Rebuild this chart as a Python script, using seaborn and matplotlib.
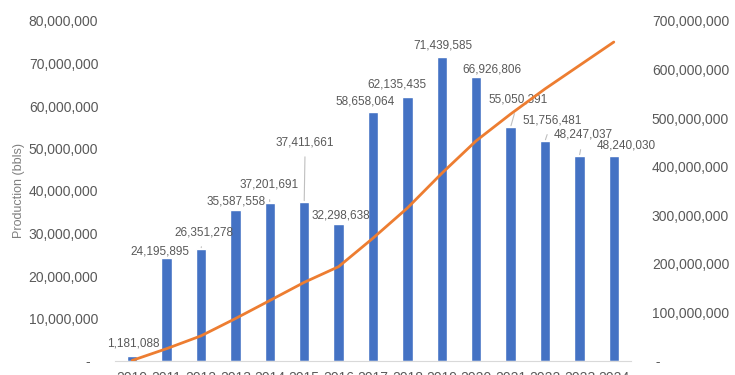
import numpy as np
import matplotlib
matplotlib.use("Agg")
import matplotlib.pyplot as plt
import seaborn as sns
from matplotlib.ticker import FuncFormatter

# data
years = ["2010", "2011", "2012", "2013", "2014", "2015", "2016", "2017",
         "2018", "2019", "2020", "2021", "2022", "2023", "2024"]
production = [1181088, 24195895, 26351278, 35587558, 37201691, 37411661,
              32298638, 58658064, 62135435, 71439585, 66926806, 55050391,
              51756481, 48247037, 48240030]
# cumulative production (secondary axis)
cumulative = [1181088, 25376983, 51728261, 87315819, 124517510, 161929171,
              194227809, 252885873, 315021308, 386460893, 453387699, 508438090,
              560194571, 608441608, 656681638]

# label offsets in pixels (dx, dy) to mimic the manual label placement
label_offsets = [(1, 12), (-7, 7), (3, 17), (1, 8), (-1, 18), (1, 60), (2, 8),
                 (-8, 10), (-10, 12), (1, 12), (16, 7), (8, 28), (7, 21),
                 (4, 21), (12, 10)]
leader = [False, False, True, False, True, True, False, False, False, False,
          False, True, True, True, False]

sns.set_style("white")
plt.rcParams["font.family"] = ["Liberation Sans", "DejaVu Sans"]
grey = "#595959"

fig = plt.figure(figsize=(7.35, 3.75), dpi=100)
ax = fig.add_axes([115 / 735, 14 / 375, 516 / 735, 340 / 375])

sns.barplot(x=years, y=production, color="#4472C4", width=0.3, saturation=1, ax=ax)
ax.set_xlim(-0.5, len(years) - 0.5)
ax.set_ylim(0, 80000000)
ax.set_yticks(np.arange(0, 80000001, 10000000))

def fmt(v, pos):
    return "-  " if v == 0 else f"{v:,.0f}"

ax.yaxis.set_major_formatter(FuncFormatter(fmt))
ax.set_ylabel("Production (bbls)", color="#7f7f7f", fontsize=9, labelpad=3)
ax.set_xlabel("")
ax.tick_params(axis="y", length=0, pad=12, labelsize=10, labelcolor=grey)
ax.tick_params(axis="x", length=0, pad=7, labelsize=10, labelcolor=grey)
for s in ["top", "right", "left"]:
    ax.spines[s].set_visible(False)
ax.spines["bottom"].set_color("#d9d9d9")
ax.spines["bottom"].set_linewidth(0.8)

for i, v in enumerate(production):
    dx, dy = label_offsets[i]
    arrow = dict(arrowstyle="-", color="#bfbfbf", lw=0.8, shrinkA=4, shrinkB=1) if leader[i] else None
    ax.annotate(f"{v:,}", xy=(i, v), xytext=(dx, dy), textcoords="offset pixels",
                ha="center", va="center", fontsize=8.5, color=grey, arrowprops=arrow)

ax2 = ax.twinx()
sns.lineplot(x=np.arange(len(years)), y=cumulative, color="#ED7D31", linewidth=2, ax=ax2)
ax2.set_ylim(0, 700000000)
ax2.set_yticks(np.arange(0, 700000001, 100000000))

def fmt2(v, pos):
    return " -" if v == 0 else f"{v:,.0f}"

ax2.yaxis.set_major_formatter(FuncFormatter(fmt2))
ax2.tick_params(axis="y", length=0, pad=15, labelsize=10, labelcolor=grey)
for s in ["top", "right", "left", "bottom"]:
    ax2.spines[s].set_visible(False)

fig.savefig("out.png", dpi=100)
